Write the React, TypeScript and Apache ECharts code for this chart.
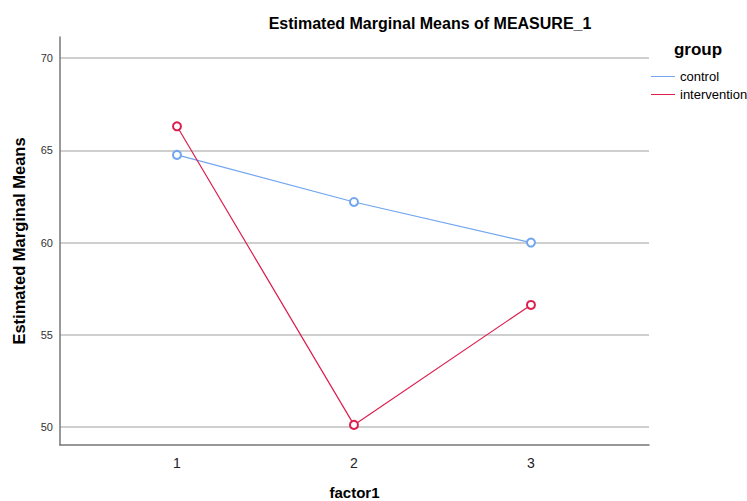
import React, { useEffect, useRef } from "react";
import * as echarts from "echarts";

const categories = [1, 2, 3];
const tickLabels = [50, 55, 60, 65, 70];
const controlValues = [64.75, 62.2, 60.0];
const interventionValues = [66.3, 50.12, 56.62];
const seriesNames = ["control", "intervention"];

const FONT = "'Liberation Sans', Arial, sans-serif";
const CONTROL_COLOR = "#72a6ef";
const INTERVENTION_COLOR = "#dd1f50";

export default function App() {
  const ref = useRef<HTMLDivElement>(null);
  useEffect(() => {
    if (!ref.current) return;
    const chart = echarts.init(ref.current, null, { renderer: "svg" });
    const mk = (vals: number[]) => categories.map((c, i) => [c, vals[i]]);
    chart.setOption({
      animation: false,
      backgroundColor: "#ffffff",
      textStyle: { fontFamily: FONT },
      title: [
        {
          text: "Estimated Marginal Means of MEASURE_1",
          left: 430,
          top: 15,
          padding: 0,
          textAlign: "center",
          textStyle: { fontFamily: FONT, fontSize: 16, fontWeight: "bold", color: "#000" },
        },
        {
          text: "group",
          left: 698,
          top: 41,
          padding: 0,
          textAlign: "center",
          textStyle: { fontFamily: FONT, fontSize: 17, fontWeight: "bold", color: "#000" },
        },
      ],
      legend: {
        orient: "vertical",
        left: 651,
        top: 70,
        padding: 0,
        itemGap: 5,
        itemWidth: 24,
        itemHeight: 13,
        icon: "path://M0,6.5 L24,6.5 L24,7.5 L0,7.5 Z",
        data: seriesNames,
        textStyle: { fontFamily: FONT, fontSize: 13, color: "#000" },
      },
      grid: {
        left: 60,
        right: 98,
        top: 37,
        bottom: 56,
        containLabel: false,
        outerBoundsMode: "none",
      },
      xAxis: {
        type: "value",
        min: 0.339,
        max: 3.667,
        name: "factor1",
        nameLocation: "middle",
        nameGap: 40,
        nameTextStyle: { fontFamily: FONT, fontSize: 15, fontWeight: "bold", color: "#000" },
        axisLine: { show: true, lineStyle: { color: "#777", width: 1.5 } },
        axisTick: { show: false, customValues: categories },
        splitLine: { show: false },
        axisLabel: {
          customValues: categories,
          fontFamily: FONT,
          fontSize: 14,
          color: "#222",
          margin: 11,
        },
      },
      yAxis: {
        type: "value",
        min: 49.03,
        max: 71.14,
        name: "Estimated Marginal Means",
        nameLocation: "middle",
        nameGap: 33,
        nameTextStyle: { fontFamily: FONT, fontSize: 16.5, fontWeight: "bold", color: "#000" },
        axisLine: { show: true, lineStyle: { color: "#777", width: 1.5 } },
        axisTick: { show: false, customValues: tickLabels },
        splitLine: { show: true, lineStyle: { color: "#cfcfcf", width: 2 } },
        axisLabel: {
          customValues: tickLabels,
          fontFamily: FONT,
          fontSize: 11,
          color: "#333",
          margin: 7,
        },
      },
      series: [
        {
          name: seriesNames[0],
          type: "line",
          data: mk(controlValues),
          color: CONTROL_COLOR,
          symbol: "emptyCircle",
          symbolSize: 8,
          lineStyle: { width: 1.2, color: CONTROL_COLOR },
          itemStyle: { color: CONTROL_COLOR, borderWidth: 1 },
        },
        {
          name: seriesNames[1],
          type: "line",
          data: mk(interventionValues),
          color: INTERVENTION_COLOR,
          symbol: "emptyCircle",
          symbolSize: 8,
          lineStyle: { width: 1.2, color: INTERVENTION_COLOR },
          itemStyle: { color: INTERVENTION_COLOR, borderWidth: 1 },
        },
      ],
    });
    return () => chart.dispose();
  }, []);
  return (
    <div
      ref={ref}
      style={{ position: "absolute", left: 0, top: 0, width: 747, height: 501 }}
    />
  );
}
